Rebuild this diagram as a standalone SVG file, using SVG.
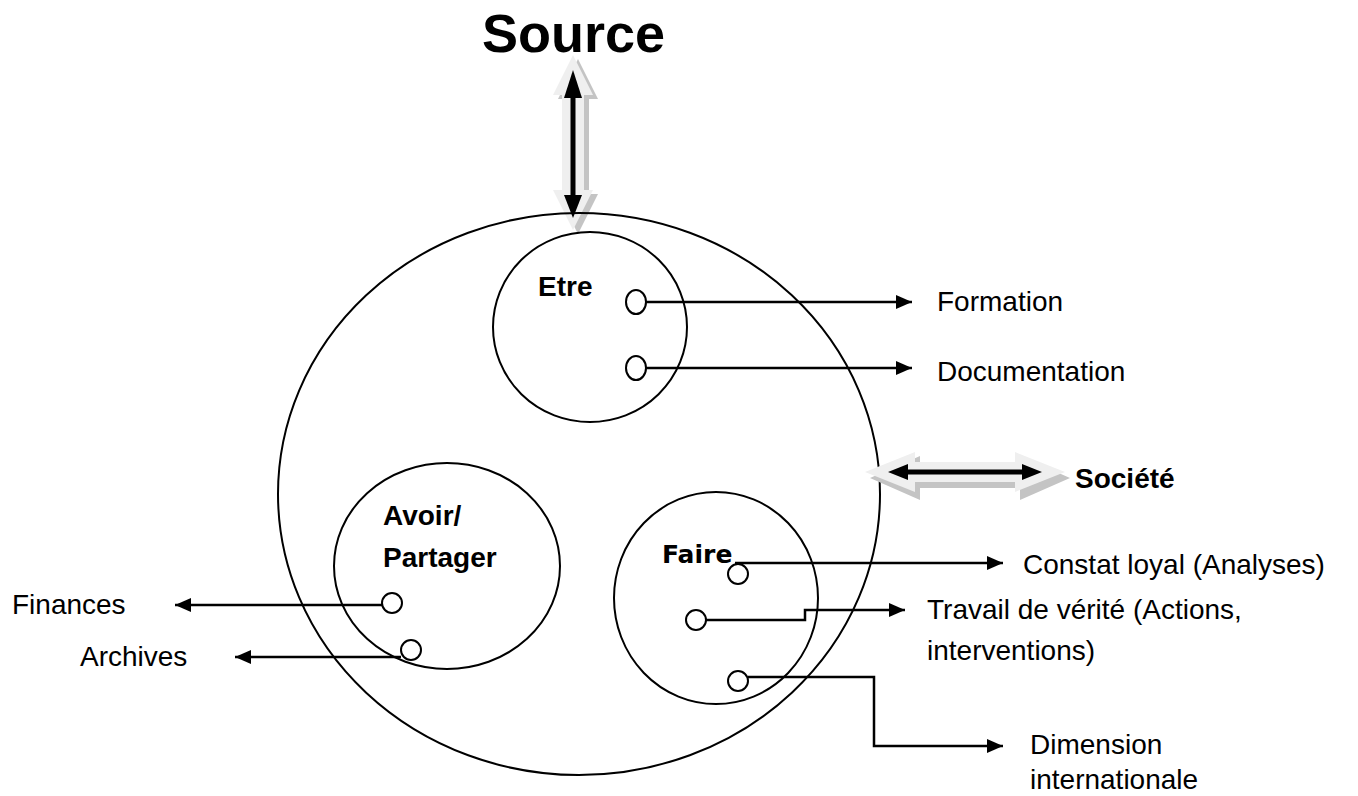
<svg xmlns="http://www.w3.org/2000/svg" width="1358" height="796" viewBox="0 0 1358 796">
<defs>
<style>
.ring{fill:none;stroke:#000;stroke-width:2}
.dot{fill:#fff;stroke:#000;stroke-width:2}
.ln{fill:none;stroke:#000;stroke-width:2.5}
.t{font-family:"Liberation Sans",Arial,sans-serif;font-size:28px;fill:#000}
.b{font-weight:bold}
.c{font-family:"DejaVu Sans",sans-serif;font-weight:bold;font-size:25px;fill:#000}
.sh{fill:#c4c4c4}
.hi{fill:#efefef}
</style>
<marker id="ah" markerUnits="userSpaceOnUse" markerWidth="16" markerHeight="14" refX="16" refY="7" orient="auto">
<path d="M0,0 L16,7 L0,14 z" fill="#000"/>
</marker>
</defs>
<rect width="1358" height="796" fill="#fff"/>

<g id="node-source">
<text class="t b" x="482" y="52" style="font-size:54px">Source</text>
<polygon class="sh" points="578,59 598,99 589,99 589,194 598,194 578,234 558,194 567,194 567,99 558,99"/>
<polygon class="hi" points="573,55 593,95 584,95 584,190 593,190 573,230 553,190 562,190 562,95 553,95"/>
<line x1="573" y1="96" x2="573" y2="197" stroke="#000" stroke-width="5"/>
<polygon points="573,70 582,98 564,98" fill="#000"/>
<polygon points="573,218 582,195 564,195" fill="#000"/>
</g>

<g id="node-outer">
<ellipse class="ring" cx="579" cy="494" rx="301" ry="281"/>
</g>

<g id="node-societe">
<polygon class="sh" points="870,478 920,456 920,468 1020,468 1020,456 1070,478 1020,500 1020,488 920,488 920,500"/>
<polygon class="hi" points="865,472 915,452 915,462 1015,462 1015,452 1065,472 1015,492 1015,482 915,482 915,492"/>
<line x1="905" y1="472" x2="1025" y2="472" stroke="#000" stroke-width="5"/>
<polygon points="888,472 908,464 908,480" fill="#000"/>
<polygon points="1042,472 1022,464 1022,480" fill="#000"/>
<text class="t b" x="1075" y="488">Société</text>
</g>

<g id="node-etre">
<ellipse class="ring" cx="590" cy="327" rx="97" ry="95"/>
<text class="t b" x="538" y="296">Etre</text>
<ellipse class="dot" cx="636" cy="302" rx="10" ry="12"/>
<ellipse class="dot" cx="636" cy="368" rx="10" ry="12"/>
</g>

<g id="node-avoir">
<ellipse class="ring" cx="447" cy="566" rx="113" ry="103"/>
<text class="t b" x="383" y="525">Avoir/</text>
<text class="t b" x="383" y="567">Partager</text>
<circle class="dot" cx="392" cy="603" r="10"/>
<circle class="dot" cx="411" cy="650" r="10"/>
</g>

<g id="node-faire">
<ellipse class="ring" cx="716" cy="598" rx="102" ry="106"/>
<text class="c" x="662" y="563">Faire</text>
<circle class="dot" cx="738" cy="574" r="10"/>
<circle class="dot" cx="696" cy="620" r="10"/>
<circle class="dot" cx="738" cy="681" r="10"/>
</g>

<g id="connectors">
<path class="ln" d="M646,302 H912" marker-end="url(#ah)"/>
<path class="ln" d="M646,368 H912" marker-end="url(#ah)"/>
<path class="ln" d="M382,605 H175" marker-end="url(#ah)"/>
<path class="ln" d="M401,657 H235" marker-end="url(#ah)"/>
<path class="ln" d="M735,563 H1003" marker-end="url(#ah)"/>
<path class="ln" d="M706,620 H805 V610 H905" marker-end="url(#ah)"/>
<path class="ln" d="M748,677 H874 V746 H1003" marker-end="url(#ah)"/>
</g>

<g id="node-formation"><text class="t" x="937" y="311">Formation</text></g>
<g id="node-documentation"><text class="t" x="937" y="381">Documentation</text></g>
<g id="node-constat"><text class="t" x="1023" y="574">Constat loyal (Analyses)</text></g>
<g id="node-travail"><text class="t" x="927" y="619">Travail de vérité (Actions,</text><text class="t" x="927" y="660">interventions)</text></g>
<g id="node-dimension"><text class="t" x="1030" y="754">Dimension</text><text class="t" x="1030" y="789">internationale</text></g>
<g id="node-finances"><text class="t" x="12" y="614">Finances</text></g>
<g id="node-archives"><text class="t" x="80" y="666">Archives</text></g>
</svg>
